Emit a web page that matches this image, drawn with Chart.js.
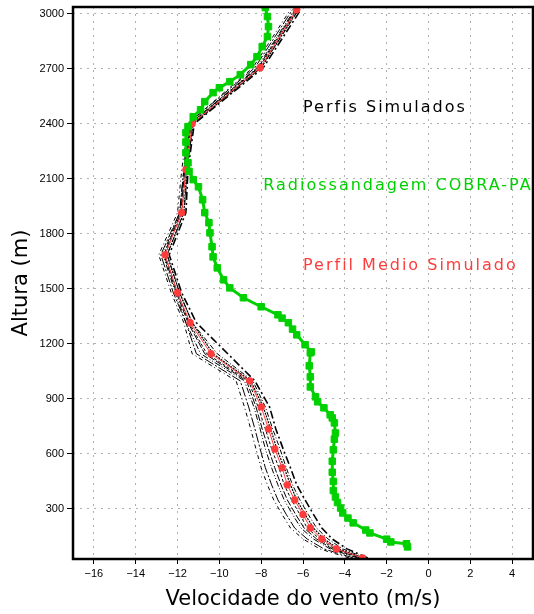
<!DOCTYPE html>
<html>
<head>
<meta charset="utf-8">
<title>Perfis de velocidade do vento</title>
<script src="https://cdn.jsdelivr.net/npm/chart.js@4.4.1/dist/chart.umd.min.js"></script>
<style>
  html, body { margin: 0; padding: 0; background: #fff; }
  canvas { display: block; }
</style>
</head>
<body>
<canvas id="c" width="534" height="614"></canvas>
<script>
// Axis ticks
const xTicks = [-16, -14, -12, -10, -8, -6, -4, -2, 0, 2, 4];
const yTicks = [300, 600, 900, 1200, 1500, 1800, 2100, 2400, 2700, 3000];

// Model levels (m) shared by the simulated profiles
const levels = [33, 82, 136, 196, 270, 349, 431, 524, 627, 736, 856, 998, 1146, 1315, 1478, 1685, 1915, 2149, 2400, 2705, 3022];

// Mean simulated profile (m/s)
const meanProfile = [-3.15, -4.4, -5.1, -5.65, -6.0, -6.4, -6.75, -7.0, -7.35, -7.65, -8.0, -8.55, -10.4, -11.4, -12.0, -12.6, -11.8, -11.6, -11.3, -8.05, -6.3];

// Individual simulated profiles (m/s)
const sim1 = [-2.9, -3.9, -4.6, -5.1, -5.5, -5.9, -6.3, -6.6, -6.95, -7.3, -7.6, -8.3, -9.6, -11.1, -11.8, -12.4, -11.6, -11.5, -11.2, -7.9, -6.1];
const sim2 = [-3.0, -4.1, -4.8, -5.35, -5.75, -6.15, -6.5, -6.8, -7.1, -7.45, -7.8, -8.4, -10.1, -11.3, -11.9, -12.5, -11.7, -11.5, -11.3, -8.0, -6.2];
const sim3 = [-3.2, -4.5, -5.2, -5.8, -6.15, -6.55, -6.9, -7.15, -7.5, -7.8, -8.15, -8.6, -10.6, -11.45, -12.0, -12.6, -11.8, -11.6, -11.35, -8.1, -6.3];
const sim4 = [-3.4, -4.7, -5.5, -6.1, -6.5, -6.9, -7.2, -7.5, -7.8, -8.05, -8.35, -8.8, -10.9, -11.6, -12.1, -12.7, -11.9, -11.7, -11.4, -8.2, -6.4];
const sim5 = [-3.6, -5.0, -5.8, -6.4, -6.8, -7.2, -7.5, -7.8, -8.05, -8.3, -8.6, -9.0, -11.1, -11.6, -12.2, -12.8, -11.9, -11.7, -11.5, -8.3, -6.5];
const sim6 = [-3.8, -5.2, -6.0, -6.6, -7.0, -7.4, -7.7, -8.0, -8.25, -8.5, -8.8, -9.2, -11.3, -11.7, -12.3, -12.9, -12.0, -11.8, -11.5, -8.4, -6.6];
const sim7 = [-3.1, -4.3, -5.0, -5.5, -5.9, -6.3, -6.6, -6.9, -7.25, -7.55, -7.9, -8.5, -10.3, -11.3, -11.9, -12.5, -11.7, -11.55, -11.25, -8.0, -6.25];
const sim8 = [-3.3, -4.6, -5.35, -5.95, -6.35, -6.75, -7.05, -7.35, -7.65, -7.95, -8.25, -8.7, -10.7, -11.5, -12.05, -12.65, -11.85, -11.65, -11.4, -8.15, -6.35];

// Radiosonde COBRA-PA: heights (m) and wind speed (m/s)
const sondeHeight = [93, 110, 120, 135, 169, 185, 224, 250, 278, 305, 335, 365, 400, 450, 500, 560, 622, 680, 714, 769, 796, 813, 851, 884, 911, 965, 1020, 1080, 1151, 1156, 1195, 1249, 1280, 1315, 1340, 1358, 1402, 1451, 1505, 1549, 1614, 1674, 1729, 1805, 1860, 1915, 1985, 2056, 2095, 2140, 2187, 2242, 2300, 2351, 2384, 2438, 2476, 2520, 2569, 2596, 2629, 2667, 2722, 2765, 2820, 2875, 2929, 2984, 3033];
const sondeSpeed = [-1.0, -1.05, -1.8, -2.0, -2.8, -3.0, -3.6, -3.85, -4.1, -4.2, -4.35, -4.45, -4.55, -4.55, -4.6, -4.6, -4.55, -4.5, -4.45, -4.5, -4.6, -4.7, -5.0, -5.3, -5.4, -5.65, -5.65, -5.7, -5.65, -5.6, -5.9, -6.3, -6.5, -6.7, -7.0, -7.2, -8.0, -8.85, -9.5, -9.8, -10.1, -10.3, -10.35, -10.45, -10.5, -10.7, -10.8, -11.0, -11.25, -11.45, -11.5, -11.6, -11.6, -11.6, -11.5, -11.25, -10.9, -10.7, -10.3, -10.0, -9.5, -9.0, -8.5, -8.2, -7.95, -7.7, -7.65, -7.7, -7.8];

const GREEN = '#00d000';
const RED = '#ff3c3c';

function pairs(speeds, heights) {
  return speeds.map((v, i) => ({ x: v, y: heights[i] }));
}

const simProfiles = [sim1, sim2, sim3, sim4, sim5, sim6, sim7, sim8];
const simStyles = [
  { w: 1.6, dash: [8, 3, 2, 3] },
  { w: 1, dash: [5, 2, 1, 2] },
  { w: 1, dash: [3, 2] },
  { w: 1, dash: [6, 2, 1, 2, 1, 2] },
  { w: 1, dash: [10, 2, 2, 2] },
  { w: 1, dash: [4, 3, 1, 3] },
  { w: 1.2, dash: [2, 1] },
  { w: 1, dash: [7, 2] }
];

const datasets = [
  {
    label: 'Radiossandagem COBRA-PA',
    data: pairs(sondeSpeed, sondeHeight),
    showLine: true,
    borderColor: GREEN,
    backgroundColor: GREEN,
    borderWidth: 3,
    pointStyle: 'rect',
    pointRadius: 4.6,
    pointBorderWidth: 1,
    pointBorderColor: GREEN,
    order: 0
  },
  {
    label: 'Perfil Medio Simulado',
    data: pairs(meanProfile, levels),
    showLine: true,
    borderColor: RED,
    backgroundColor: RED,
    borderWidth: 1,
    pointStyle: 'circle',
    pointRadius: 3.7,
    pointBorderWidth: 0,
    order: 1
  }
];
simProfiles.forEach((p, i) => {
  datasets.push({
    label: 'Perfis Simulados ' + (i + 1),
    data: pairs(p, levels),
    showLine: true,
    borderColor: '#000',
    borderWidth: simStyles[i].w,
    borderDash: simStyles[i].dash,
    pointRadius: 0,
    order: 2
  });
});

// In-plot labels, placed in data coordinates
const notes = [
  { text: 'Perfis Simulados', x: -6.0, y: 2487, color: '#000' },
  { text: 'Radiossandagem COBRA-PA', x: -7.9, y: 2062, color: GREEN },
  { text: 'Perfil Medio Simulado', x: -6.0, y: 1625, color: RED }
];

const framePlugin = {
  id: 'frame',
  afterDatasetsDraw(chart) {
    const { ctx, chartArea: a, scales } = chart;
    // labels inside the plot, clipped to the frame
    ctx.save();
    ctx.beginPath();
    ctx.rect(a.left, a.top, a.right - a.left, a.bottom - a.top);
    ctx.clip();
    ctx.font = '16px "DejaVu Sans"';
    ctx.letterSpacing = '2px';
    ctx.textBaseline = 'middle';
    ctx.textAlign = 'left';
    notes.forEach(n => {
      ctx.fillStyle = n.color;
      ctx.fillText(n.text, scales.x.getPixelForValue(n.x), scales.y.getPixelForValue(n.y));
    });
    ctx.restore();
    // frame
    ctx.save();
    ctx.strokeStyle = '#000';
    ctx.lineWidth = 2.5;
    ctx.strokeRect(a.left, a.top, a.right - a.left, a.bottom - a.top);
    ctx.restore();
  },
  afterDraw(chart) {
    const { ctx, chartArea: a } = chart;
    ctx.save();
    ctx.fillStyle = '#000';
    ctx.font = '21px "DejaVu Sans"';
    ctx.textAlign = 'center';
    ctx.textBaseline = 'middle';
    ctx.fillText('Velocidade do vento (m/s)', (a.left + a.right) / 2, 600);
    ctx.translate(22, (a.top + a.bottom) / 2);
    ctx.rotate(-Math.PI / 2);
    ctx.fillText('Altura (m)', 0, 0);
    ctx.restore();
  }
};

const tickFont = { family: '"Liberation Sans", Arial, sans-serif', size: 11 };

new Chart(document.getElementById('c'), {
  type: 'scatter',
  data: { datasets },
  plugins: [framePlugin],
  options: {
    responsive: false,
    devicePixelRatio: 1,
    animation: false,
    layout: { autoPadding: false, padding: { top: 7, right: 1, left: 0, bottom: 0 } },
    plugins: { legend: { display: false }, tooltip: { enabled: false } },
    scales: {
      x: {
        type: 'linear',
        min: -17,
        max: 5,
        afterBuildTicks: s => { s.ticks = xTicks.map(v => ({ value: v })); },
        afterFit: s => { s.height = 55; s.paddingLeft = 0; s.paddingRight = 0; },
        ticks: {
          font: tickFont,
          color: '#000',
          padding: 3,
          maxRotation: 0,
          autoSkip: false,
          callback: v => (v < 0 ? '\u2212' + Math.abs(v) : String(v))
        },
        grid: { color: '#b0b0b0', lineWidth: 1, drawTicks: true, tickLength: 5, tickColor: '#000', tickWidth: 1 },
        border: { display: false, dash: [2, 5] }
      },
      y: {
        type: 'linear',
        min: 27,
        max: 3036,
        afterBuildTicks: s => { s.ticks = yTicks.map(v => ({ value: v })); },
        afterFit: s => { s.width = 73; s.paddingTop = 0; s.paddingBottom = 0; },
        ticks: {
          font: tickFont,
          color: '#000',
          padding: 3,
          autoSkip: false,
          callback: v => String(v)
        },
        grid: { color: '#b0b0b0', lineWidth: 1, drawTicks: true, tickLength: 6, tickColor: '#000', tickWidth: 1 },
        border: { display: false, dash: [2, 5] }
      }
    }
  }
});
</script>
</body>
</html>
